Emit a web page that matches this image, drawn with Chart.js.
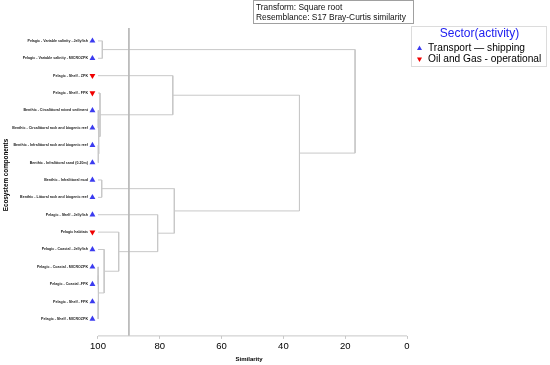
<!DOCTYPE html>
<html>
<head>
<meta charset="utf-8">
<script src="https://cdn.jsdelivr.net/npm/chart.js@4.4.1/dist/chart.umd.min.js"></script>
<style>
  html, body { margin: 0; padding: 0; background: #fff; }
  #wrap { width: 550px; height: 365px; }
</style>
</head>
<body>
<div id="wrap"><canvas id="dendro" width="550" height="365"></canvas></div>
<script>
const leafLabels = [
  'Pelagic - Variable salinity - Jellyfish',
  'Pelagic - Variable salinity - MICROZPK',
  'Pelagic - Shelf - ZPK',
  'Pelagic - Shelf - FPK',
  'Benthic - Circalittoral mixed sediment',
  'Benthic - Circalittoral rock and biogenic reef',
  'Benthic - Infralittoral rock and biogenic reef',
  'Benthic - Infralittoral sand (0-20m)',
  'Benthic - Infralittoral mud',
  'Benthic - Littoral rock and biogenic reef',
  'Pelagic - Shelf - Jellyfish',
  'Pelagic habitats',
  'Pelagic - Coastal - Jellyfish',
  'Pelagic - Coastal - MICROZPK',
  'Pelagic - Coastal -FPK',
  'Pelagic - Shelf - FPK',
  'Pelagic - Shelf - MICROZPK'
];
// T = transport, O = oil and gas
const leafSector = ['T', 'T', 'O', 'O', 'T', 'T', 'T', 'T', 'T', 'T', 'T', 'O', 'T', 'T', 'T', 'T', 'T'];

// [child a, child b, similarity]; ids >= 17 are earlier merges (17 = first row)
const merges = [
  [0, 1, 98.6],
  [4, 5, 99.9],
  [6, 7, 99.9],
  [18, 19, 99.7],
  [3, 20, 99.35],
  [2, 21, 75.8],
  [8, 9, 98.8],
  [13, 14, 99.95],
  [15, 16, 99.95],
  [24, 25, 99.8],
  [12, 26, 98.0],
  [11, 27, 93.3],
  [10, 28, 80.7],
  [23, 29, 75.3],
  [22, 30, 34.8],
  [17, 31, 16.8]
];

const xTicks = [100, 80, 60, 40, 20, 0];
const cutLevel = 90;
const sectorNames = { T: 'Transport \u2014 shipping', O: 'Oil and Gas - operational' };
const infoLines = ['Transform: Square root', 'Resemblance: S17 Bray-Curtis similarity'];

const BLUE = '#3b3bf0';
const RED = '#f00000';
const LINE = '#c8c8c8';
const FONT = 'Arial, "Liberation Sans", sans-serif';

// node positions
const nodes = leafLabels.map((_, i) => ({ x: 100, y: i }));
const datasets = [];
merges.forEach(([a, b, s]) => {
  const na = nodes[a], nb = nodes[b];
  nodes.push({ x: s, y: (na.y + nb.y) / 2 });
  datasets.push({
    type: 'line',
    data: [{ x: na.x, y: na.y }, { x: s, y: na.y }, { x: s, y: nb.y }, { x: nb.x, y: nb.y }],
    borderColor: LINE, borderWidth: 1, pointRadius: 0, fill: false, tension: 0, clip: false
  });
});

const yMin = -0.743, yMax = 16.971;
// cut line and the x axis line (axis only runs 0..100)
datasets.unshift({
  type: 'line',
  data: [{ x: cutLevel, y: yMin }, { x: cutLevel, y: yMax }],
  borderColor: '#b8b8b8', borderWidth: 1, pointRadius: 0, fill: false, clip: false
});
datasets.unshift({
  type: 'line',
  data: [{ x: 100, y: yMax }, { x: 0, y: yMax }],
  borderColor: LINE, borderWidth: 1, pointRadius: 0, fill: false, clip: false
});

['T', 'O'].forEach(code => {
  datasets.push({
    type: 'scatter',
    data: leafLabels.map((_, i) => i).filter(i => leafSector[i] === code).map(i => ({ x: 101.8, y: i })),
    pointStyle: 'triangle',
    rotation: code === 'O' ? 180 : 0,
    pointRadius: 3.4,
    backgroundColor: code === 'O' ? RED : BLUE,
    borderColor: code === 'O' ? RED : BLUE,
    borderWidth: 0,
    clip: false
  });
});

function tri(ctx, x, y, r, down, color) {
  ctx.save();
  ctx.fillStyle = color;
  ctx.beginPath();
  const d = down ? -1 : 1;
  ctx.moveTo(x, y - d * r);
  ctx.lineTo(x + r * 0.866, y + d * r * 0.5);
  ctx.lineTo(x - r * 0.866, y + d * r * 0.5);
  ctx.closePath();
  ctx.fill();
  ctx.restore();
}

const extras = {
  id: 'extras',
  afterDraw(chart) {
    const ctx = chart.ctx;
    ctx.save();
    // info box
    ctx.strokeStyle = '#a0a0a0';
    ctx.lineWidth = 1;
    ctx.strokeRect(253.5, 0.5, 160, 23);
    ctx.fillStyle = '#111';
    ctx.font = '8.4px ' + FONT;
    ctx.textBaseline = 'alphabetic';
    ctx.textAlign = 'left';
    ctx.fillText(infoLines[0], 256, 9.5);
    ctx.fillText(infoLines[1], 256, 19.5);

    // legend
    ctx.strokeStyle = '#dcdcdc';
    ctx.strokeRect(411.5, 26.5, 135, 40);
    ctx.fillStyle = '#2020f0';
    ctx.font = '12px ' + FONT;
    ctx.textAlign = 'center';
    ctx.textBaseline = 'middle';
    ctx.fillText('Sector(activity)', 479.5, 33.5);
    ctx.font = '10.2px ' + FONT;
    ctx.textAlign = 'left';
    ctx.fillStyle = '#000';
    tri(ctx, 419.5, 48.5, 2.9, false, BLUE);
    ctx.fillText(sectorNames.T, 428, 48);
    tri(ctx, 419.5, 59, 2.9, true, RED);
    ctx.fillStyle = '#000';
    ctx.fillText(sectorNames.O, 428, 59);

    // y title
    ctx.translate(6, 175);
    ctx.rotate(-Math.PI / 2);
    ctx.font = 'bold 6.3px ' + FONT;
    ctx.textAlign = 'center';
    ctx.fillStyle = '#000';
    ctx.fillText('Ecosystem components', 0, 0);
    ctx.restore();
  }
};

new Chart(document.getElementById('dendro'), {
  type: 'scatter',
  data: { datasets },
  options: {
    responsive: false,
    animation: false,
    events: [],
    layout: { padding: { left: 0, right: 143, top: 28, bottom: 0 } },
    plugins: { legend: { display: false }, tooltip: { enabled: false } },
    scales: {
      x: {
        type: 'linear', reverse: true, min: 0, max: 102.2,
        afterBuildTicks: s => { s.ticks = xTicks.map(v => ({ value: v })); },
        ticks: { font: { size: 9.5, family: FONT }, color: '#000', padding: 2, maxRotation: 0 },
        grid: { drawOnChartArea: false, tickLength: 3, color: LINE },
        border: { display: false },
        title: { display: true, text: 'Similarity', color: '#000', font: { size: 6, weight: 'bold', family: FONT }, padding: { top: 1.5, bottom: 2 } }
      },
      y: {
        type: 'linear', reverse: true, min: yMin, max: yMax,
        afterBuildTicks: s => { s.ticks = leafLabels.map((_, i) => ({ value: i })); },
        afterFit: s => { s.width = 91.2; },
        ticks: {
          autoSkip: false, padding: 3.2, color: '#222',
          font: { size: 3.6, weight: 'bold', family: FONT },
          callback: v => leafLabels[v]
        },
        grid: { display: false, drawTicks: false },
        border: { display: false }
      }
    }
  },
  plugins: [extras]
});
</script>
</body>
</html>
